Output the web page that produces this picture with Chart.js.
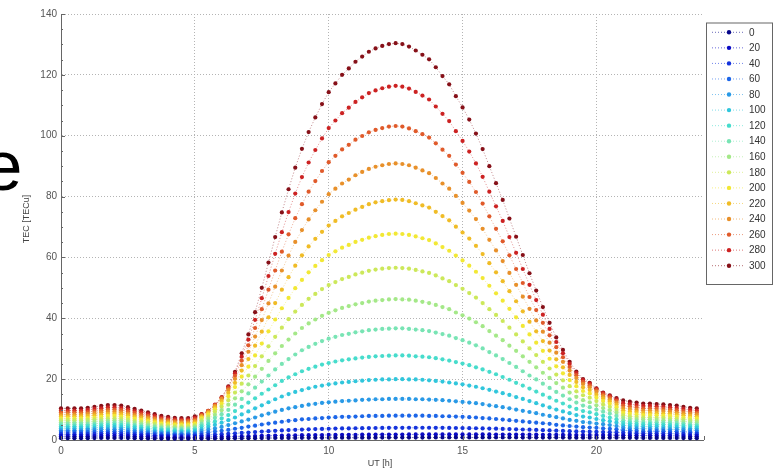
<!DOCTYPE html>
<html>
<head>
<meta charset="utf-8">
<title>TEC vs UT</title>
<script src="https://cdn.jsdelivr.net/npm/chart.js@4.4.1/dist/chart.umd.min.js"></script>
<style>
  html, body { margin: 0; padding: 0; background: #fff; overflow: hidden; }
  #wrap { position: relative; width: 779px; height: 472px; }
  #slide-e { position: absolute; left: -17px; top: 130px; font: 71px/71px "Liberation Sans", Arial, sans-serif; color: #000; z-index: 2; }
</style>
</head>
<body>
<div id="wrap">
  <div id="slide-e">e</div>
  <canvas id="grafico"></canvas>
</div>
<script>
// UT hours of every sample
const hours = [0,0.25,0.5,0.75,1,1.25,1.5,1.75,2,2.25,2.5,2.75,3,3.25,3.5,3.75,4,4.25,4.5,4.75,
  5,5.25,5.5,5.75,6,6.25,6.5,6.75,7,7.25,7.5,7.75,8,8.25,8.5,8.75,9,9.25,9.5,9.75,
  10,10.25,10.5,10.75,11,11.25,11.5,11.75,12,12.25,12.5,12.75,13,13.25,13.5,13.75,14,14.25,14.5,14.75,
  15,15.25,15.5,15.75,16,16.25,16.5,16.75,17,17.25,17.5,17.75,18,18.25,18.5,18.75,19,19.25,19.5,19.75,
  20,20.25,20.5,20.75,21,21.25,21.5,21.75,22,22.25,22.5,22.75,23,23.25,23.5,23.75];

const labels = ['0','20','40','60','80','100','120','140','160','180','200','220','240','260','280','300'];

// TEC [TECu] per series
const tec0 = [0.60,0.60,0.60,0.60,0.61,0.63,0.65,0.66,0.66,0.65,0.62,0.59,0.56,0.53,0.49,0.46,0.44,0.42,0.42,0.42,
  0.45,0.47,0.48,0.50,0.52,0.53,0.55,0.57,0.59,0.60,0.62,0.64,0.65,0.67,0.68,0.69,0.70,0.71,0.72,0.73,
  0.74,0.75,0.75,0.76,0.77,0.77,0.78,0.78,0.79,0.80,0.80,0.80,0.81,0.81,0.81,0.82,0.82,0.82,0.82,0.83,
  0.83,0.83,0.83,0.83,0.83,0.82,0.82,0.82,0.82,0.81,0.81,0.81,0.80,0.80,0.79,0.79,0.78,0.78,0.77,0.77,
  0.77,0.77,0.77,0.76,0.75,0.73,0.71,0.69,0.69,0.68,0.68,0.66,0.65,0.63,0.61,0.60];
const tec20 = [1.25,1.25,1.25,1.25,1.27,1.31,1.34,1.38,1.38,1.36,1.30,1.22,1.16,1.09,1.02,0.95,0.91,0.88,0.86,0.86,
  0.94,0.98,1.02,1.06,1.09,1.14,1.18,1.23,1.27,1.32,1.36,1.40,1.44,1.48,1.51,1.54,1.57,1.60,1.62,1.64,
  1.66,1.68,1.70,1.71,1.73,1.74,1.75,1.77,1.78,1.79,1.80,1.81,1.82,1.82,1.83,1.83,1.84,1.84,1.84,1.84,
  1.84,1.84,1.83,1.83,1.82,1.81,1.80,1.79,1.78,1.77,1.76,1.74,1.73,1.71,1.69,1.68,1.66,1.65,1.64,1.63,
  1.62,1.61,1.61,1.60,1.56,1.51,1.48,1.44,1.44,1.42,1.40,1.38,1.36,1.31,1.27,1.25];
const tec40 = [1.90,1.90,1.90,1.90,1.94,1.99,2.05,2.10,2.10,2.07,1.98,1.87,1.78,1.67,1.56,1.45,1.39,1.34,1.32,1.32,
  1.43,1.58,1.68,1.79,1.91,2.04,2.18,2.33,2.47,2.61,2.76,2.90,3.02,3.14,3.25,3.35,3.44,3.51,3.58,3.64,
  3.70,3.74,3.79,3.82,3.86,3.89,3.92,3.94,3.97,3.99,4.00,4.01,4.02,4.02,4.02,4.02,4.01,3.99,3.98,3.95,
  3.92,3.89,3.86,3.81,3.76,3.71,3.65,3.59,3.52,3.45,3.38,3.30,3.22,3.14,3.06,2.99,2.91,2.83,2.77,2.74,
  2.68,2.62,2.58,2.52,2.38,2.31,2.25,2.20,2.20,2.16,2.14,2.10,2.07,1.99,1.94,1.90];
const tec60 = [2.6,2.6,2.6,2.6,2.6,2.7,2.7,2.8,2.8,2.8,2.6,2.5,2.4,2.2,2.1,1.9,1.9,1.8,1.8,1.8,
  1.9,2.3,2.5,2.8,3.0,3.3,3.7,4.0,4.4,4.7,5.1,5.4,5.7,6.0,6.3,6.5,6.8,6.9,7.1,7.2,
  7.4,7.5,7.6,7.6,7.7,7.8,7.9,7.9,7.9,8.0,8.0,8.0,8.0,8.0,8.0,7.9,7.9,7.8,7.8,7.7,
  7.6,7.5,7.4,7.2,7.1,6.9,6.7,6.5,6.3,6.1,5.9,5.7,5.5,5.3,5.0,4.8,4.6,4.4,4.2,4.1,
  4.0,3.8,3.7,3.5,3.2,3.1,3.0,2.9,2.9,2.9,2.9,2.8,2.8,2.7,2.6,2.5];
const tec80 = [3.2,3.2,3.2,3.2,3.3,3.4,3.5,3.5,3.5,3.5,3.3,3.1,3.0,2.8,2.6,2.4,2.3,2.2,2.2,2.2,
  2.4,3.0,3.4,3.8,4.3,4.9,5.5,6.1,6.7,7.4,8.1,8.7,9.3,9.9,10.4,10.8,11.2,11.6,11.9,12.2,
  12.4,12.6,12.8,12.9,13.0,13.2,13.3,13.4,13.4,13.5,13.5,13.5,13.5,13.4,13.4,13.3,13.2,13.1,12.9,12.7,
  12.5,12.3,12.1,11.8,11.4,11.1,10.8,10.4,10.0,9.6,9.2,8.8,8.3,7.9,7.5,7.1,6.6,6.3,5.9,5.7,
  5.4,5.2,4.9,4.6,4.0,3.9,3.8,3.7,3.7,3.6,3.6,3.5,3.5,3.4,3.3,3.2];
const tec100 = [3.9,3.9,3.9,3.9,3.9,4.0,4.1,4.3,4.3,4.2,4.0,3.8,3.6,3.4,3.1,2.9,2.8,2.7,2.7,2.7,
  2.9,3.7,4.3,5.0,5.7,6.5,7.4,8.4,9.4,10.4,11.4,12.4,13.4,14.3,15.1,15.8,16.4,17.0,17.5,17.9,
  18.3,18.6,18.9,19.1,19.3,19.5,19.7,19.8,19.9,19.9,20.0,20.0,19.9,19.9,19.8,19.6,19.4,19.2,18.9,18.6,
  18.3,17.9,17.5,17.0,16.5,15.9,15.4,14.8,14.1,13.5,12.8,12.1,11.4,10.7,10.0,9.4,8.8,8.2,7.7,7.4,
  6.9,6.5,6.2,5.7,4.8,4.7,4.6,4.4,4.4,4.4,4.3,4.3,4.2,4.0,3.9,3.9];
const tec120 = [4.5,4.5,4.5,4.5,4.6,4.7,4.8,5.0,5.0,4.9,4.7,4.4,4.2,3.9,3.7,3.4,3.3,3.2,3.1,3.1,
  3.4,4.5,5.2,6.1,7.1,8.2,9.5,10.9,12.3,13.7,15.2,16.6,18.0,19.4,20.6,21.6,22.6,23.4,24.1,24.8,
  25.3,25.8,26.2,26.5,26.8,27.1,27.3,27.5,27.6,27.7,27.8,27.8,27.7,27.5,27.4,27.2,26.9,26.5,26.1,25.6,
  25.1,24.6,23.9,23.2,22.4,21.6,20.7,19.8,18.8,17.9,16.9,15.9,14.9,13.9,12.9,12.0,11.0,10.2,9.5,9.1,
  8.5,7.9,7.4,6.8,5.6,5.5,5.3,5.2,5.2,5.1,5.1,5.0,4.9,4.7,4.6,4.5];
const tec140 = [5.2,5.2,5.2,5.2,5.2,5.4,5.5,5.7,5.7,5.6,5.3,5.0,4.8,4.5,4.2,3.9,3.8,3.6,3.6,3.6,
  3.9,5.2,6.1,7.3,8.5,9.9,11.6,13.5,15.3,17.2,19.2,21.2,23.2,25.0,26.6,28.1,29.5,30.6,31.6,32.5,
  33.3,33.9,34.5,34.9,35.4,35.7,36.1,36.3,36.5,36.6,36.7,36.7,36.5,36.3,36.1,35.8,35.3,34.8,34.3,33.5,
  32.8,32.0,31.1,30.1,28.9,27.8,26.6,25.3,24.0,22.6,21.2,19.9,18.5,17.1,15.8,14.6,13.4,12.3,11.3,10.8,
  10.0,9.3,8.7,7.9,6.4,6.2,6.1,5.9,5.9,5.8,5.8,5.7,5.6,5.4,5.2,5.1];
const tec160 = [5.8,5.8,5.8,5.8,5.9,6.1,6.2,6.4,6.4,6.3,6.0,5.7,5.4,5.1,4.7,4.4,4.2,4.1,4.0,4.0,
  4.4,5.9,7.0,8.3,9.8,11.6,13.7,16.0,18.3,20.8,23.4,26.0,28.5,30.9,33.0,35.0,36.8,38.3,39.6,40.8,
  41.8,42.6,43.4,44.0,44.6,45.0,45.5,45.8,46.0,46.2,46.3,46.2,46.1,45.8,45.4,45.0,44.4,43.7,43.0,41.9,
  41.0,39.9,38.7,37.4,35.8,34.3,32.8,31.0,29.3,27.5,25.7,23.9,22.1,20.4,18.7,17.2,15.6,14.2,13.1,12.4,
  11.4,10.5,9.8,9.0,7.3,7.0,6.9,6.7,6.7,6.6,6.5,6.4,6.3,6.1,5.9,5.8];
const tec180 = [6.5,6.5,6.5,6.5,6.6,6.8,6.9,7.1,7.1,7.0,6.7,6.3,6.0,5.6,5.3,4.9,4.7,4.5,4.5,4.5,
  4.8,6.5,7.7,9.3,11.0,13.1,15.6,18.5,21.2,24.3,27.5,30.8,33.9,36.9,39.7,42.2,44.4,46.4,48.0,49.6,
  50.9,51.9,52.9,53.6,54.4,55.0,55.6,56.0,56.3,56.5,56.6,56.5,56.3,55.9,55.4,54.9,54.1,53.1,52.2,50.9,
  49.7,48.3,46.8,45.0,43.0,41.1,39.1,36.9,34.7,32.4,30.1,27.9,25.7,23.5,21.5,19.6,17.7,16.0,14.7,13.9,
  12.8,11.7,10.9,9.9,8.1,7.8,7.6,7.4,7.4,7.3,7.3,7.1,7.0,6.8,6.6,6.4];
const tec200 = [7.1,7.1,7.1,7.1,7.2,7.4,7.6,7.9,7.9,7.7,7.4,7.0,6.6,6.2,5.8,5.4,5.2,5.0,4.9,4.9,
  5.3,7.1,8.4,10.1,12.0,14.4,17.4,20.8,24.1,27.8,31.7,35.7,39.6,43.3,46.7,49.9,52.6,55.1,57.2,59.1,
  60.8,62.0,63.2,64.1,65.1,65.8,66.5,67.0,67.4,67.7,67.8,67.7,67.4,66.9,66.3,65.7,64.6,63.4,62.2,60.6,
  59.0,57.3,55.3,53.2,50.7,48.2,45.8,43.1,40.3,37.5,34.7,32.0,29.3,26.7,24.2,21.9,19.7,17.7,16.1,15.3,
  14.0,12.8,11.9,10.8,8.9,8.6,8.4,8.2,8.2,8.1,8.0,7.9,7.7,7.4,7.2,7.1];
const tec220 = [7.8,7.8,7.8,7.8,7.9,8.1,8.3,8.6,8.6,8.4,8.1,7.6,7.2,6.8,6.3,5.9,5.7,5.4,5.4,5.4,
  5.8,7.5,8.9,10.7,12.8,15.5,18.8,22.8,26.6,31.0,35.6,40.3,45.0,49.4,53.5,57.3,60.7,63.6,66.1,68.4,
  70.5,72.0,73.5,74.6,75.7,76.6,77.5,78.1,78.5,78.8,79.0,78.9,78.5,77.8,77.1,76.4,75.0,73.6,72.2,70.1,
  68.2,66.2,63.8,61.1,58.1,55.1,52.2,48.9,45.6,42.3,38.9,35.7,32.5,29.4,26.5,23.9,21.4,19.1,17.3,16.4,
  14.9,13.7,12.7,11.6,9.7,9.4,9.2,8.9,8.9,8.8,8.7,8.6,8.4,8.1,7.9,7.7];
const tec240 = [8.4,8.4,8.4,8.4,8.6,8.8,9.1,9.3,9.3,9.1,8.7,8.2,7.8,7.4,6.9,6.4,6.1,5.9,5.8,5.8,
  6.3,7.9,9.3,11.2,13.5,16.4,20.1,24.6,29.0,34.0,39.4,44.9,50.4,55.7,60.6,65.1,69.0,72.5,75.5,78.3,
  80.8,82.6,84.3,85.6,87.0,88.1,89.1,89.8,90.3,90.7,90.9,90.7,90.3,89.5,88.6,87.7,86.1,84.3,82.6,80.2,
  77.9,75.4,72.6,69.4,65.8,62.3,58.8,54.9,51.0,47.1,43.1,39.3,35.6,32.0,28.7,25.7,22.8,20.4,18.4,17.3,
  15.8,14.4,13.4,12.3,10.5,10.2,9.9,9.7,9.7,9.5,9.5,9.3,9.1,8.8,8.6,8.4];
const tec260 = [9.1,9.1,9.1,9.1,9.2,9.5,9.7,10.0,10.0,9.8,9.4,8.9,8.4,7.9,7.4,6.9,6.6,6.4,6.3,6.3,
  6.8,8.2,9.5,11.5,13.8,17.0,21.1,26.1,31.1,36.8,43.0,49.4,55.7,61.9,67.6,72.9,77.5,81.6,85.1,88.4,
  91.3,93.4,95.5,97.0,98.7,99.9,101.1,101.9,102.5,103.0,103.2,103.0,102.4,101.5,100.5,99.4,97.5,95.4,93.4,90.5,
  87.8,84.8,81.5,77.7,73.5,69.4,65.3,60.7,56.2,51.6,47.0,42.7,38.5,34.4,30.5,27.2,24.0,21.3,19.1,18.0,
  16.4,15.0,14.0,12.9,11.3,11.0,10.7,10.4,10.4,10.3,10.2,10.0,9.8,9.5,9.2,9.0];
const tec280 = [9.7,9.7,9.7,9.7,9.9,10.2,10.4,10.7,10.7,10.5,10.1,9.5,9.1,8.5,7.9,7.4,7.1,6.8,6.7,6.7,
  7.3,8.4,9.6,11.6,14.0,17.4,21.9,27.4,33.0,39.5,46.6,53.9,61.2,68.3,74.9,81.0,86.4,91.2,95.3,99.1,
  102.5,105.0,107.4,109.2,111.1,112.6,114.0,114.9,115.6,116.1,116.4,116.1,115.5,114.4,113.2,111.9,109.6,107.2,104.8,101.5,
  98.3,94.8,90.9,86.5,81.6,76.8,72.0,66.7,61.5,56.2,51.0,46.0,41.2,36.5,32.2,28.5,25.0,22.0,19.7,18.5,
  16.8,15.4,14.4,13.4,12.1,11.8,11.5,11.2,11.2,11.0,10.9,10.7,10.5,10.2,9.9,9.7];
const tec300 = [10.4,10.4,10.4,10.4,10.6,10.9,11.2,11.5,11.5,11.3,10.8,10.2,9.7,9.1,8.5,7.9,7.6,7.3,7.2,7.2,
  7.8,8.5,9.6,11.5,14.0,17.6,22.4,28.5,34.7,42.0,50.0,58.3,66.7,74.8,82.4,89.5,95.7,101.2,106.0,110.4,
  114.3,117.2,120.0,122.1,124.3,126.0,127.6,128.7,129.5,130.1,130.4,130.1,129.3,128.0,126.6,125.1,122.5,119.6,116.9,113.0,
  109.3,105.3,100.7,95.6,90.0,84.4,78.9,72.8,66.8,60.8,54.8,49.1,43.7,38.5,33.7,29.6,25.7,22.5,20.0,18.8,
  17.0,15.6,14.7,13.8,13.0,12.6,12.3,12.0,12.0,11.8,11.7,11.5,11.3,10.9,10.6,10.4];

const series = [tec0, tec20, tec40, tec60, tec80, tec100, tec120, tec140,
  tec160, tec180, tec200, tec220, tec240, tec260, tec280, tec300];

const colores = ['#06068a','#0a0ac4','#1433dc','#1c66e8','#2899e6','#30c6dc','#46dccc','#78e4b4',
  '#a4e888','#cce85a','#f2e834','#f0bc26','#e8902a','#e05a2a','#cc2222','#861018'];

const FONT = '"Liberation Sans", Arial, sans-serif';

function alpha(hex, a) {
  const n = parseInt(hex.slice(1), 16);
  return `rgba(${n >> 16},${(n >> 8) & 255},${n & 255},${a})`;
}

const datasets = series.map((vals, i) => ({
  label: labels[i],
  data: vals.map((v, k) => ({ x: hours[k], y: v })),
  borderColor: alpha(colores[i], 0.5),
  borderWidth: 1,
  borderDash: [1, 2],
  backgroundColor: colores[i],
  pointBackgroundColor: colores[i],
  pointBorderWidth: 0,
  pointRadius: 2.1,
  tension: 0,
  clip: false
}));

// inward ticks, axis titles and the boxed legend
const extras = {
  id: 'extras',
  afterDraw(chart) {
    const { ctx, chartArea: a, scales: { x, y } } = chart;
    ctx.save();

    ctx.strokeStyle = '#666';
    ctx.lineWidth = 1;
    ctx.beginPath();
    for (let v = 0; v <= 140; v += 5) {
      const py = Math.round(y.getPixelForValue(v)) + 0.5;
      const len = v % 20 === 0 ? 4 : 2;
      ctx.moveTo(a.left, py);
      ctx.lineTo(a.left + len, py);
    }
    [0, 5, 10, 15, 20, 24].forEach(h => {
      const px = Math.round(x.getPixelForValue(h)) + 0.5;
      ctx.moveTo(px, a.bottom);
      ctx.lineTo(px, a.bottom - 4);
    });
    ctx.stroke();

    ctx.fillStyle = '#444';
    ctx.font = '9px ' + FONT;
    ctx.textAlign = 'center';
    ctx.textBaseline = 'middle';
    ctx.fillText('UT [h]', 380, 464);
    ctx.save();
    ctx.translate(27, 219);
    ctx.rotate(-Math.PI / 2);
    ctx.fillText('TEC [TECu]', 0, 0);
    ctx.restore();

    // legend
    const lx = 706, ly = 22.5, lw = 66, lh = 261.5;
    ctx.fillStyle = '#fff';
    ctx.fillRect(lx, ly, lw, lh);
    ctx.strokeStyle = '#666';
    ctx.strokeRect(lx + 0.5, ly + 0.5, lw, lh);
    ctx.font = '10px ' + FONT;
    ctx.textAlign = 'left';
    chart.data.datasets.forEach((ds, i) => {
      const ry = 32.3 + i * 15.56;
      ctx.strokeStyle = alpha(colores[i], 0.6);
      ctx.setLineDash([1, 2]);
      ctx.beginPath();
      ctx.moveTo(712, ry);
      ctx.lineTo(745, ry);
      ctx.stroke();
      ctx.setLineDash([]);
      ctx.fillStyle = colores[i];
      ctx.beginPath();
      ctx.arc(729, ry, 2.2, 0, Math.PI * 2);
      ctx.fill();
      ctx.fillStyle = '#333';
      ctx.fillText(ds.label, 749, ry + 0.5);
    });

    ctx.restore();
  }
};

const ctx = document.getElementById('grafico').getContext('2d');
const chart = new Chart(ctx, {
  type: 'line',
  data: { datasets },
  plugins: [extras],
  options: {
    responsive: true,
    maintainAspectRatio: false,
    animation: false,
    devicePixelRatio: 1,
    layout: { padding: { top: 14, right: 75.5, left: 0, bottom: 0 } },
    plugins: {
      legend: { display: false },
      tooltip: { enabled: false }
    },
    scales: {
      x: {
        type: 'linear',
        min: 0,
        max: 24,
        afterFit(scale) { scale.height = 32; },
        ticks: {
          stepSize: 5,
          includeBounds: false,
          color: '#555',
          font: { size: 10, family: FONT },
          padding: 5,
          maxRotation: 0
        },
        grid: { color: '#b4b4b4', lineWidth: 1, drawTicks: false },
        border: { display: true, color: '#666', width: 1, dash: [1, 2] }
      },
      y: {
        type: 'linear',
        min: 0,
        max: 140,
        afterFit(scale) { scale.width = 61; },
        ticks: {
          stepSize: 20,
          color: '#555',
          font: { size: 10, family: FONT },
          padding: 4
        },
        grid: { color: '#b4b4b4', lineWidth: 1, drawTicks: false },
        border: { display: true, color: '#666', width: 1, dash: [1, 2] }
      }
    }
  }
});
</script>
</body>
</html>
